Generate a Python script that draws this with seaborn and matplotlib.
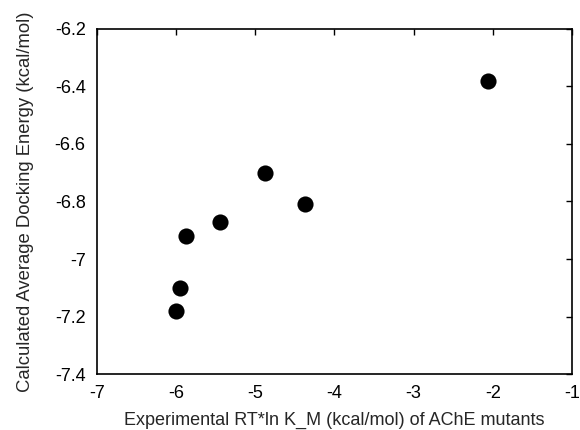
import matplotlib as mpl
import numpy as np
import pandas as pd

mpl.use('Agg')
import matplotlib.pyplot as plt
import seaborn as sns

# ----- data -----
exp_rt_ln_km = [-6.00, -5.95, -5.87, -5.44, -4.87, -4.37, -2.06]
docking_energy = [-7.18, -7.10, -6.92, -6.87, -6.70, -6.81, -6.38]
x_ticks = [-7, -6, -5, -4, -3, -2, -1]
y_ticks = [-7.4, -7.2, -7.0, -6.8, -6.6, -6.4, -6.2]

df = pd.DataFrame({'x': exp_rt_ln_km, 'y': docking_energy})

sns.set_style('white')
plt.rcParams['font.family'] = ['Liberation Sans', 'DejaVu Sans']

fig = plt.figure(figsize=(5.8, 4.3), dpi=100)
ax = fig.add_axes([0.167, 0.130, 0.819, 0.803])

sns.scatterplot(data=df, x='x', y='y', ax=ax, color='black', s=135,
                edgecolor='black', linewidth=0)

ax.set_xlim(-7, -1)
ax.set_ylim(-7.4, -6.2)
ax.set_xticks(x_ticks)
ax.set_yticks(y_ticks)
ax.set_xticklabels([f'{t:g}' for t in x_ticks])
ax.set_yticklabels([f'{t:g}' for t in y_ticks])
ax.tick_params(direction='in', length=4, width=1, top=True, right=True,
               labelsize=13, pad=8, colors='black')
for side in ax.spines.values():
    side.set_visible(True)
    side.set_color('black')
    side.set_linewidth(1.2)

ax.set_xlabel('Experimental RT*ln K_M (kcal/mol) of AChE mutants', fontsize=13, labelpad=7)
ax.set_ylabel('Calculated Average Docking Energy (kcal/mol)', fontsize=13.3, labelpad=15)

fig.savefig('out.png', dpi=100)
